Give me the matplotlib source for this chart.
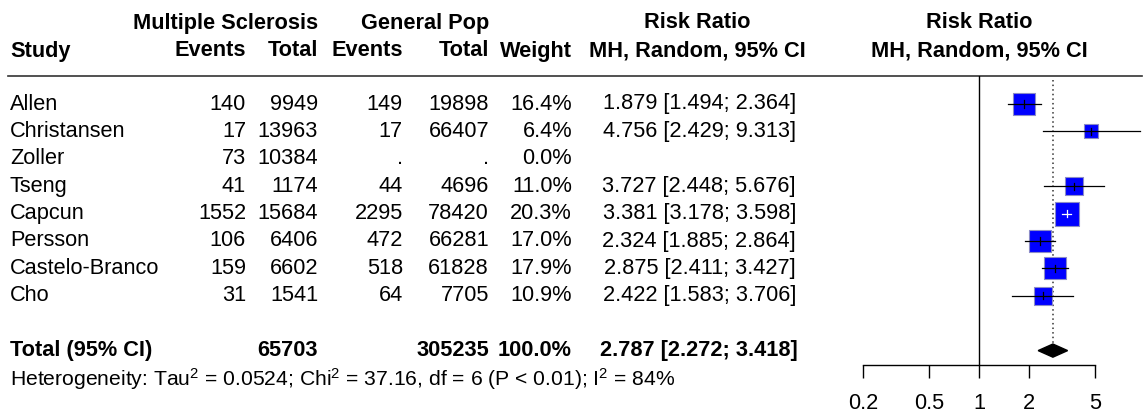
import numpy as np
import matplotlib
matplotlib.use('Agg')
import matplotlib.pyplot as plt
from matplotlib.ticker import FixedLocator, FixedFormatter, NullLocator

plt.rcParams['font.family'] = ['Liberation Sans', 'DejaVu Sans']
plt.rcParams['mathtext.fontset'] = 'custom'
plt.rcParams['mathtext.rm'] = 'Liberation Sans'
plt.rcParams['mathtext.it'] = 'Liberation Sans:italic'
plt.rcParams['mathtext.bf'] = 'Liberation Sans:bold'

# 数据
studies = ['Allen', 'Christansen', 'Zoller', 'Tseng', 'Capcun', 'Persson', 'Castelo-Branco', 'Cho']
ms_events = [140, 17, 73, 41, 1552, 106, 159, 31]
ms_total = [9949, 13963, 10384, 1174, 15684, 6406, 6602, 1541]
gp_events = [149, 17, np.nan, 44, 2295, 472, 518, 64]
gp_total = [19898, 66407, np.nan, 4696, 78420, 66281, 61828, 7705]
weights = [16.4, 6.4, 0.0, 11.0, 20.3, 17.0, 17.9, 10.9]
rr = [1.879, 4.756, np.nan, 3.727, 3.381, 2.324, 2.875, 2.422]
rr_lower = [1.494, 2.429, np.nan, 2.448, 3.178, 1.885, 2.411, 1.583]
rr_upper = [2.364, 9.313, np.nan, 5.676, 3.598, 2.864, 3.427, 3.706]

total_ms = 65703
total_gp = 305235
total_weight = 100.0
pooled, pooled_lower, pooled_upper = 2.787, 2.272, 3.418
het_text = ('Heterogeneity: Tau$^2$ = 0.0524; Chi$^2$ = 37.16, df = 6 '
            '(P < 0.01); I$^2$ = 84%')
axis_ticks = [0.2, 0.5, 1, 2, 5]

fs = 15.7
W, H = 1146, 416
fig = plt.figure(figsize=(W / 100, H / 100), dpi=100)

# 文字层（像素坐标）
tax = fig.add_axes([0, 0, 1, 1])
tax.set_xlim(0, W)
tax.set_ylim(H, 0)
tax.axis('off')

row0, dy = 104, 27.4
def row_y(i):
    return row0 + dy * i

def fmt(v):
    return '.' if np.isnan(v) else f'{int(v)}'

# 表头
tax.text(318, 23, 'Multiple Sclerosis', ha='right', va='center', fontsize=fs, fontweight='bold')
tax.text(489, 23, 'General Pop', ha='right', va='center', fontsize=fs, fontweight='bold')
tax.text(697, 23, 'Risk Ratio', ha='center', va='center', fontsize=fs, fontweight='bold')
tax.text(979, 23, 'Risk Ratio', ha='center', va='center', fontsize=fs, fontweight='bold')
tax.text(10, 51, 'Study', ha='left', va='center', fontsize=fs, fontweight='bold')
for x, s in [(246, 'Events'), (318, 'Total'), (403, 'Events'), (489, 'Total'), (572, 'Weight')]:
    tax.text(x, 51, s, ha='right', va='center', fontsize=fs, fontweight='bold')
tax.text(697, 51, 'MH, Random, 95% CI', ha='center', va='center', fontsize=fs, fontweight='bold')
tax.text(979, 51, 'MH, Random, 95% CI', ha='center', va='center', fontsize=fs, fontweight='bold')
tax.plot([8, 1142], [76, 76], color='#333333', lw=1.2)

for i, name in enumerate(studies):
    y = row_y(i)
    tax.text(10, y, name, ha='left', va='center', fontsize=fs)
    tax.text(246, y, fmt(ms_events[i]), ha='right', va='center', fontsize=fs)
    tax.text(318, y, fmt(ms_total[i]), ha='right', va='center', fontsize=fs)
    tax.text(403, y, fmt(gp_events[i]), ha='right', va='center', fontsize=fs)
    tax.text(489, y, fmt(gp_total[i]), ha='right', va='center', fontsize=fs)
    tax.text(572, y, f'{weights[i]:.1f}%', ha='right', va='center', fontsize=fs)
    if not np.isnan(rr[i]):
        tax.text(796, y, f'{rr[i]:.3f} [{rr_lower[i]:.3f}; {rr_upper[i]:.3f}]',
                 ha='right', va='center', fontsize=fs)

yt = row_y(9)
tax.text(10, yt, 'Total (95% CI)', ha='left', va='center', fontsize=fs, fontweight='bold')
tax.text(318, yt, f'{total_ms}', ha='right', va='center', fontsize=fs, fontweight='bold')
tax.text(489, yt, f'{total_gp}', ha='right', va='center', fontsize=fs, fontweight='bold')
tax.text(572, yt, f'{total_weight:.1f}%', ha='right', va='center', fontsize=fs, fontweight='bold')
tax.text(798, yt, f'{pooled:.3f} [{pooled_lower:.3f}; {pooled_upper:.3f}]',
         ha='right', va='center', fontsize=fs, fontweight='bold')
tax.text(10, 379, het_text, ha='left', va='center', fontsize=fs * 0.97)

# 森林图
px1, pxl, pxr = 979, 840, 1142
per_dec = 166
ytop, ybot = 76, 365
fax = fig.add_axes([pxl / W, (H - ybot) / H, (pxr - pxl) / W, (ybot - ytop) / H])
fax.patch.set_visible(False)
fax.set_xscale('log')
fax.set_xlim(10 ** ((pxl - px1) / per_dec), 10 ** ((pxr - px1) / per_dec))
fax.set_ylim((ybot - row0) / dy, (ytop - row0) / dy)
for s in ['top', 'right', 'left']:
    fax.spines[s].set_visible(False)
fax.spines['bottom'].set_bounds(0.2, 5)
fax.spines['bottom'].set_linewidth(1)
fax.xaxis.set_major_locator(FixedLocator(axis_ticks))
fax.xaxis.set_major_formatter(FixedFormatter([f'{t:g}' for t in axis_ticks]))
fax.xaxis.set_minor_locator(NullLocator())
fax.tick_params(axis='x', direction='out', length=9.4, width=1, pad=10.5, labelsize=fs)
fax.set_yticks([])

fax.axvline(1, color='black', lw=1)
fax.plot([pooled, pooled], [-0.88, 9], ls=(0, (1, 2)), color='#333333', lw=1.1)

for i in range(len(studies)):
    if np.isnan(rr[i]):
        continue
    side_px = 5.4 * np.sqrt(weights[i])
    fax.scatter([rr[i]], [i], s=(side_px * 0.72) ** 2, marker='s',
                facecolor='#0000ff', edgecolor='#8c8cc8', lw=0.8, zorder=3)
    half = side_px / 2
    inside = (np.log10(rr_upper[i] / rr[i]) * per_dec < half and
              np.log10(rr[i] / rr_lower[i]) * per_dec < half)
    c = 'white' if inside else 'black'
    fax.plot([rr_lower[i], rr_upper[i]], [i, i], color=c, lw=0.9, zorder=4)
    fax.plot([rr[i], rr[i]], [i - 0.13, i + 0.13], color=c, lw=0.9, zorder=4)

fax.fill([pooled_lower, pooled, pooled_upper, pooled], [9, 9 - 0.24, 9, 9 + 0.24],
         color='black', zorder=3)

fig.savefig('out.png', dpi=100)
